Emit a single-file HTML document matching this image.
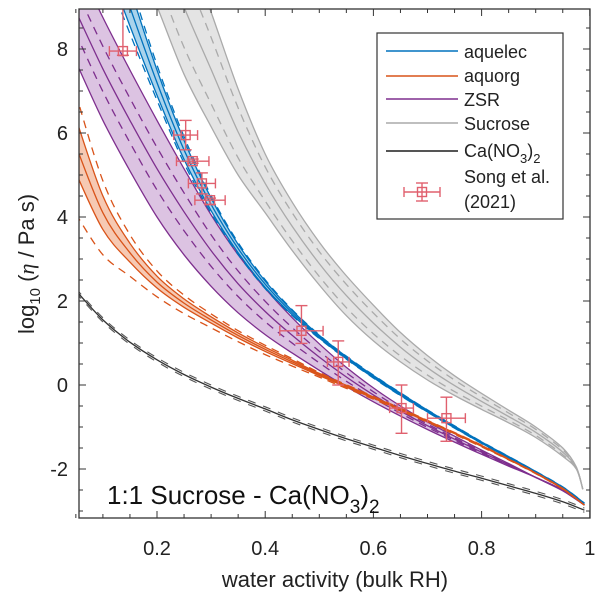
<!DOCTYPE html>
<html><head><meta charset="utf-8"><style>
html,body{margin:0;padding:0;background:#fff;}
svg{display:block;font-family:"Liberation Sans",Arial,sans-serif;}
</style></head><body>
<svg id="chart" width="600" height="597" viewBox="0 0 600 597" xmlns="http://www.w3.org/2000/svg">
<defs><clipPath id="plotclip"><rect x="79" y="9" width="511" height="509"/></clipPath></defs>
<g id="plot" clip-path="url(#plotclip)"></g>
<g id="axes"></g>
</svg>
<script>
const xs = [0.05,0.1,0.15,0.2,0.25,0.3,0.35,0.4,0.45,0.5,0.55,0.6,0.65,0.7,0.75,0.8,0.85,0.9,0.95,0.99];
const grayLowX = [0.15,0.202,0.25,0.3,0.35,0.4,0.45,0.5,0.55,0.6,0.65,0.7,0.75,0.8,0.85,0.9,0.95,0.975,0.987];
const grayLowY = [10.6,8.95,7.4,6.15,5.0,4.1,3.2,2.38,1.65,1.05,0.55,0.12,-0.25,-0.58,-0.9,-1.25,-1.7,-2.0,-2.48];
const grayUpX = [0.25,0.298,0.35,0.4,0.45,0.5,0.544,0.6,0.65,0.7,0.75,0.8,0.85,0.9,0.95,0.975,0.987];
const grayUpY = [10.6,8.95,7.05,5.5,4.35,3.4,2.69,1.9,1.25,0.7,0.22,-0.2,-0.6,-1.0,-1.5,-1.95,-2.48];
const blueMid = [13,10.9,9.0,7.2,5.6,4.3,3.25,2.4,1.72,1.15,0.65,0.2,-0.22,-0.62,-1.0,-1.37,-1.72,-2.07,-2.44,-2.82];
const blueWidth = [1.4,1.2,0.9,0.6,0.45,0.3,0.2,0.15,0.1,0.06,0.05,0.05,0.05,0.04,0.04,0.03,0.03,0.02,0.02,0.01];
const purpleLow = [7.7,6.3,5.1,4.0,3.1,2.35,1.72,1.2,0.76,0.35,-0.04,-0.4,-0.74,-1.06,-1.36,-1.65,-1.93,-2.2,-2.5,-2.86];
const purpleUp = [10.1,8.75,7.5,6.3,5.15,4.05,3.1,2.3,1.6,0.98,0.42,-0.07,-0.5,-0.88,-1.22,-1.55,-1.87,-2.2,-2.52,-2.86];
const orangeMid = [5.7,4.1,3.15,2.45,1.95,1.55,1.18,0.85,0.55,0.25,-0.03,-0.3,-0.58,-0.86,-1.15,-1.45,-1.77,-2.1,-2.47,-2.86];
const orangeWidth = [1.3,0.8,0.45,0.28,0.2,0.15,0.12,0.1,0.08,0.05,0.04,0.03,0.03,0.02,0.02,0.02,0.01,0.01,0.01,0.0];
const blackY = [2.25,1.55,1.02,0.6,0.25,-0.05,-0.32,-0.57,-0.83,-1.06,-1.28,-1.48,-1.68,-1.87,-2.05,-2.22,-2.4,-2.58,-2.78,-2.98];
const songX = [0.137,0.253,0.266,0.283,0.298,0.467,0.535,0.652,0.735];
const songY = [7.95,5.95,5.33,4.8,4.4,1.29,0.55,-0.55,-0.79];
const songXErr = [0.025,0.022,0.03,0.025,0.028,0.04,0.02,0.022,0.035];
const songYUp = [1.2,0.35,0.05,0.25,0.05,0.6,0.5,0.55,0.5];
const songYDn = [0.1,0.35,0.05,0.25,0.1,0.3,0.55,0.6,0.55];
const xTicks = [0.2,0.4,0.6,0.8,1];
const xTickLabels = ["0.2","0.4","0.6","0.8","1"];
const yTicks = [-2,0,2,4,6,8];
const yTickLabels = ["-2","0","2","4","6","8"];

const NS="http://www.w3.org/2000/svg";
const X = v => 157 + (v-0.2)*541;
const Y = v => 385 - v*42;
const plot=document.getElementById('plot'), axes=document.getElementById('axes');
function el(tag, attrs, parent){const e=document.createElementNS(NS,tag);for(const k in attrs)e.setAttribute(k,attrs[k]);parent.appendChild(e);return e;}
function P(xa,ya){return xa.map((x,i)=>[X(x),Y(ya[i])]);}
function smooth(p, move){
  let d=(move?'M':'L')+p[0][0].toFixed(1)+','+p[0][1].toFixed(1);
  for(let i=0;i<p.length-1;i++){
    const p0=p[i-1]||p[i], p1=p[i], p2=p[i+1], p3=p[i+2]||p[i+1];
    const c1=[p1[0]+(p2[0]-p0[0])/6, p1[1]+(p2[1]-p0[1])/6];
    const c2=[p2[0]-(p3[0]-p1[0])/6, p2[1]-(p3[1]-p1[1])/6];
    d+=' C'+c1.map(v=>v.toFixed(1)).join(',')+' '+c2.map(v=>v.toFixed(1)).join(',')+' '+p2[0].toFixed(1)+','+p2[1].toFixed(1);
  }
  return d;
}
function line(xa, ya, color, w, dash, name){
  const p=el('path',{d:smooth(P(xa,ya),true),fill:'none',stroke:color,'stroke-width':w},plot);
  if(dash)p.setAttribute('stroke-dasharray',dash);
  
  
}
function band(xl, yl, xu, yu, fill, name){
  const d=smooth(P(xl,yl),true)+' '+smooth(P(xu,yu).reverse(),false)+' Z';
  const p=el('path',{d:d,fill:fill,stroke:'none'},plot);
  
  
}
const mix=(a,b,f)=>a.map((v,i)=>v+(b[i]-v)*f);
function interp(xa,ya,x){for(let i=0;i<xa.length-1;i++){if(x>=xa[i]&&x<=xa[i+1])return ya[i]+(ya[i+1]-ya[i])*(x-xa[i])/(xa[i+1]-xa[i]);}return x<xa[0]?ya[0]+(ya[0]-ya[1])*(xa[0]-x)/(xa[1]-xa[0]):ya[ya.length-1];}

// Sucrose (gray)
const gUpAtLow = grayLowX.map(x=>interp(grayUpX,grayUpY,x));
band(grayLowX,grayLowY,grayUpX,grayUpY,'#e4e4e4','sucrose-band');
line(grayLowX,grayLowY,'#aaaaaa',1.3,null,'sucrose-lower');
line(grayUpX,grayUpY,'#aaaaaa',1.3,null,'sucrose-upper');
line(grayLowX,mix(grayLowY,gUpAtLow,0.5),'#aaaaaa',1.3,null,'sucrose-mid');
line(grayLowX,mix(grayLowY,gUpAtLow,0.2),'#aaaaaa',1.3,'8,6','sucrose-dash-low');
line(grayLowX,mix(grayLowY,gUpAtLow,0.78),'#aaaaaa',1.3,'8,6','sucrose-dash-up');

// ZSR (purple)
band(xs,purpleLow,xs,purpleUp,'#dcc3e2','zsr-band');
line(xs,purpleLow,'#7E2F8E',1.3,null,'zsr-lower');
line(xs,purpleUp,'#7E2F8E',1.3,null,'zsr-upper');
line(xs,mix(purpleLow,purpleUp,0.5),'#7E2F8E',1.3,null,'zsr-mid');
line(xs,mix(purpleLow,purpleUp,0.28),'#7E2F8E',1.3,'8,6','zsr-dash-low');
line(xs,mix(purpleLow,purpleUp,0.72),'#7E2F8E',1.3,'8,6','zsr-dash-up');

// aquelec (blue)
const bLow=blueMid.map((v,i)=>v-blueWidth[i]/2), bUp=blueMid.map((v,i)=>v+blueWidth[i]/2);
band(xs,bLow,xs,bUp,'#a9d3ec','aquelec-band');
line(xs,bLow,'#0072BD',1.3,null,'aquelec-lower');
line(xs,bUp,'#0072BD',1.3,null,'aquelec-upper');
line(xs,blueMid,'#0072BD',1.3,null,'aquelec-mid');
line(xs,blueMid.map((v,i)=>v-blueWidth[i]*0.7),'#0072BD',1.3,'8,6','aquelec-dash-low');
line(xs,blueMid.map((v,i)=>v+blueWidth[i]*0.7),'#0072BD',1.3,'8,6','aquelec-dash-up');

// aquorg (orange)
const oLow=orangeMid.map((v,i)=>v-orangeWidth[i]/2), oUp=orangeMid.map((v,i)=>v+orangeWidth[i]/2);
band(xs,oLow,xs,oUp,'#f6c9b3','aquorg-band');
line(xs,oLow,'#D95319',1.3,null,'aquorg-lower');
line(xs,oUp,'#D95319',1.3,null,'aquorg-upper');
line(xs,orangeMid,'#D95319',1.3,null,'aquorg-mid');
line(xs,orangeMid.map((v,i)=>v-orangeWidth[i]*1.25),'#D95319',1.3,'8,6','aquorg-dash-low');
line(xs,orangeMid.map((v,i)=>v+orangeWidth[i]*0.95),'#D95319',1.3,'8,6','aquorg-dash-up');

// Ca(NO3)2 (dark)
line(xs,blackY,'#333333',1.3,null,'cano3-line');
line(xs,blackY.map(v=>v+0.05),'#555555',1.1,'8,8','cano3-dash-up');
line(xs,blackY.map(v=>v-0.05),'#555555',1.1,'8,8','cano3-dash-low');

// Song et al. data
const dc='#e0606e';
songX.forEach((x,i)=>{
  const g=el('g',{stroke:dc,'stroke-width':1.4,fill:'none'},plot);
  
  
  const cx=X(x), cy=Y(songY[i]), x1=X(x-songXErr[i]), x2=X(x+songXErr[i]), yt=Y(songY[i]+songYUp[i]), yb=Y(songY[i]-songYDn[i]);
  el('line',{x1:x1,y1:cy,x2:x2,y2:cy},g);
  el('line',{x1:x1,y1:cy-5,x2:x1,y2:cy+5},g);
  el('line',{x1:x2,y1:cy-5,x2:x2,y2:cy+5},g);
  el('line',{x1:cx,y1:yt,x2:cx,y2:yb},g);
  el('line',{x1:cx-6,y1:yt,x2:cx+6,y2:yt},g);
  el('line',{x1:cx-6,y1:yb,x2:cx+6,y2:yb},g);
  el('rect',{x:cx-4.5,y:cy-4.5,width:9,height:9},g);
});

// axes box
el('rect',{x:79,y:9,width:511,height:509,fill:'none',stroke:'#333','stroke-width':1.3},axes);
for(let k=1; k<=20; k++){
  const v=k*0.05;
  const major=xTicks.some(t=>Math.abs(t-v)<1e-6), L=major?7:4, px=X(v);
  el('line',{x1:px,y1:518,x2:px,y2:518-L,stroke:'#333','stroke-width':1},axes);
  el('line',{x1:px,y1:9,x2:px,y2:9+L,stroke:'#333','stroke-width':1},axes);
}
for(let k=-6; k<=17; k++){
  const v=k*0.5;
  const major=yTicks.some(t=>Math.abs(t-v)<1e-6), L=major?7:4, py=Y(v);
  el('line',{x1:79,y1:py,x2:79+L,y2:py,stroke:'#333','stroke-width':1},axes);
  el('line',{x1:590,y1:py,x2:590-L,y2:py,stroke:'#333','stroke-width':1},axes);
}
xTicks.forEach((t,i)=>{
  const tx=el('text',{x:X(t),y:555,'text-anchor':'middle','font-size':20,fill:'#222'},axes);
  tx.textContent=xTickLabels[i];
  
  
});
yTicks.forEach((t,i)=>{
  const tx=el('text',{x:68,y:Y(t)+7,'text-anchor':'end','font-size':20,fill:'#222'},axes);
  tx.textContent=yTickLabels[i];
  
  
});
</script>
<script>
(function(){
const svg=document.getElementById('chart');
svg.insertAdjacentHTML('beforeend',`
<text x="335" y="587" text-anchor="middle" font-size="22" fill="#222">water activity (bulk RH)</text>
<text transform="translate(34,264) rotate(-90)" text-anchor="middle" font-size="22" fill="#222">log<tspan font-size="15" dy="6">10</tspan><tspan dy="-6"> (</tspan><tspan font-family="Liberation Serif" font-style="italic">η</tspan> / Pa s)</text>
<text x="107" y="504" font-size="26" fill="#111">1:1 Sucrose - Ca(NO<tspan font-size="19" dy="9">3</tspan><tspan dy="-9">)</tspan><tspan font-size="19" dy="9">2</tspan></text>
<g>
<rect x="377" y="33" width="186" height="186" fill="#fff" stroke="#333" stroke-width="1.2"/>
<line x1="386" y1="51" x2="458" y2="51" stroke="#0072BD" stroke-width="1.5"/>
<text x="464" y="58" font-size="18" fill="#222">aquelec</text>
<line x1="386" y1="76" x2="458" y2="76" stroke="#D95319" stroke-width="1.5"/>
<text x="464" y="82" font-size="18" fill="#222">aquorg</text>
<line x1="386" y1="99" x2="458" y2="99" stroke="#7E2F8E" stroke-width="1.5"/>
<text x="464" y="106" font-size="18" fill="#222">ZSR</text>
<line x1="386" y1="123" x2="458" y2="123" stroke="#aaaaaa" stroke-width="1.5"/>
<text x="464" y="130" font-size="18" fill="#222">Sucrose</text>
<line x1="386" y1="151" x2="458" y2="151" stroke="#555" stroke-width="2"/>
<text x="464" y="157" font-size="18" fill="#222">Ca(NO<tspan font-size="13" dy="6">3</tspan><tspan dy="-6">)</tspan><tspan font-size="13" dy="6">2</tspan></text>
<g stroke="#e0606e" stroke-width="1.4" fill="none">
<line x1="404" y1="192" x2="440" y2="192"/><line x1="404" y1="187" x2="404" y2="197"/><line x1="440" y1="187" x2="440" y2="197"/>
<line x1="422" y1="183" x2="422" y2="201"/><line x1="416" y1="183" x2="428" y2="183"/><line x1="416" y1="201" x2="428" y2="201"/>
<rect x="417.5" y="187.5" width="9" height="9"/></g>
<text x="464" y="183" font-size="18" fill="#222">Song et al.</text>
<text x="464" y="208" font-size="18" fill="#222">(2021)</text>
</g>`);
})();
</script>
</body></html>
